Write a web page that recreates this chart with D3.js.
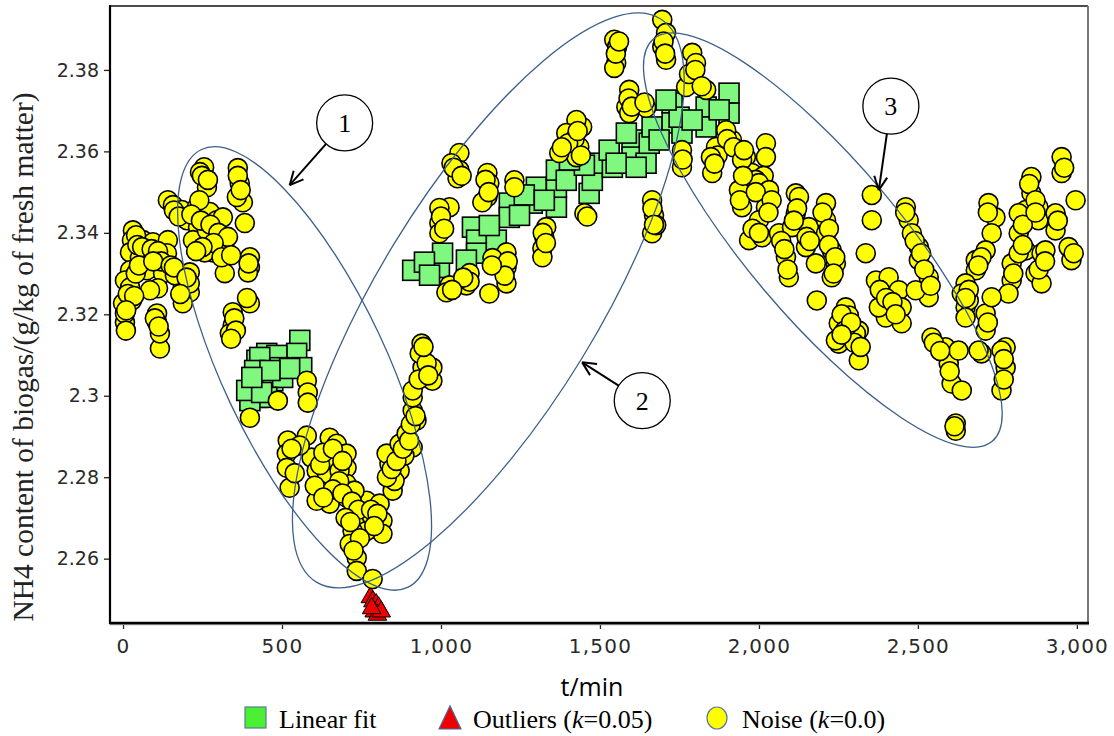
<!DOCTYPE html>
<html>
<head>
<meta charset="utf-8">
<script src="https://cdn.jsdelivr.net/npm/d3@7"></script>
<style>
  body { margin: 0; background: #fff; }
  svg { display: block; }
</style>
</head>
<body>
<svg id="chart" width="1114" height="736"></svg>
<script>
// NH4 content of biogas over time: measured noise, linear-fit segments and outliers

const xTicks = [0, 500, 1000, 1500, 2000, 2500, 3000];
const yTicks = [2.26, 2.28, 2.30, 2.32, 2.34, 2.36, 2.38];

// Noise (k=0.0): [t/min, NH4]
const noise = [
  [255,2.3561],[264,2.3512],[242,2.3549],[361,2.3559],[367,2.3522],[377,2.3475],[383,2.3424],[358,2.3488],
  [141,2.3480],[157,2.3468],[185,2.3456],[232,2.3463],[201,2.3431],[236,2.3414],[273,2.3451],[295,2.3431],[314,2.3438],
  [220,2.3382],[264,2.3406],[305,2.3382],[283,2.3352],[320,2.3362],[257,2.3352],[399,2.3340],[399,2.3315],[393,2.3303],[320,2.3301],
  [31,2.3406],[28,2.3382],[63,2.3382],[94,2.3377],[141,2.3382],[22,2.3352],[75,2.3352],[138,2.3350],[22,2.3308],[75,2.3308],[126,2.3301],[210,2.3303],
  [6,2.3283],[22,2.3266],[110,2.3264],[85,2.3259],[188,2.3266],[210,2.3254],[28,2.3234],[0,2.3227],[188,2.3227],[6,2.3180],[6,2.3202],
  [107,2.3202],[107,2.3180],[116,2.3116],[116,2.3153],[9,2.3160],
  [399,2.3227],[345,2.3205],[345,2.3173],[336,2.3153],[210,2.3276],[41,2.3394],[53,2.3338],[163,2.3296],
  [248,2.3540],[267,2.3530],[361,2.3540],[370,2.3505],[240,2.3480],[160,2.3455],[175,2.3440],[215,2.3445],[245,2.3430],[275,2.3420],
  [300,2.3400],[330,2.3390],[285,2.3375],[250,2.3365],[230,2.3355],[310,2.3340],[340,2.3345],[395,2.3325],[45,2.3370],[60,2.3365],
  [90,2.3360],[110,2.3355],[120,2.3330],[40,2.3300],[50,2.3320],[95,2.3330],[150,2.3320],[160,2.3315],[200,2.3290],[180,2.3250],
  [15,2.3250],[35,2.3245],[10,2.3210],[100,2.3190],[112,2.3170],[350,2.3190],[355,2.3160],[390,2.3240],[340,2.3140],
  [578,2.3037],[581,2.3008],[581,2.2983],[487,2.2988],[399,2.2946],
  [518,2.2890],[515,2.2858],[515,2.2823],[524,2.2774],[578,2.2902],[593,2.2848],[650,2.2897],[672,2.2882],[703,2.2858],[659,2.2848],
  [609,2.2816],[641,2.2799],[703,2.2823],[703,2.2784],[619,2.2767],[650,2.2735],[609,2.2742],[703,2.2750],[766,2.2742],[807,2.2735],
  [754,2.2700],[816,2.2693],[816,2.2661],[766,2.2668],[722,2.2668],[713,2.2636],[735,2.2602],[735,2.2570],[785,2.2550],
  [848,2.2767],[860,2.2809],[838,2.2833],[829,2.2858],[870,2.2882],[911,2.2873],[892,2.2907],[923,2.2939],[911,2.2964],[911,2.2996],
  [911,2.3013],[973,2.3037],[973,2.3069],[942,2.3069],[939,2.3128],[933,2.3104],
  [556,2.2878],[681,2.2816],[728,2.2767],[782,2.2705],[870,2.2816],[885,2.2853],[854,2.2791],[603,2.2779],
  [530,2.2870],[540,2.2810],[620,2.2830],[630,2.2860],[660,2.2870],[690,2.2840],[680,2.2790],[660,2.2770],[630,2.2750],[690,2.2760],
  [720,2.2740],[740,2.2720],[700,2.2700],[715,2.2690],[780,2.2720],[800,2.2710],[790,2.2680],[745,2.2650],[725,2.2620],[830,2.2800],
  [845,2.2820],[860,2.2840],[880,2.2870],[900,2.2890],[905,2.2930],[920,2.2950],[930,2.3040],[955,2.3080],[945,2.3120],[960,2.3050],
  [1058,2.3596],[1058,2.3554],[1052,2.3534],[1033,2.3571],[1146,2.3547],[1152,2.3522],[1146,2.3488],[1130,2.3475],[1231,2.3529],[1231,2.3512],
  [1027,2.3463],[995,2.3461],[995,2.3424],[995,2.3399],[1331,2.3414],[1325,2.3389],[1319,2.3362],[1319,2.3340],[1206,2.3352],[1206,2.3315],
  [1206,2.3276],[1162,2.3338],[1152,2.3251],[1090,2.3301],[1080,2.3271],[1027,2.3271],[1017,2.3254],[1451,2.3448],[1413,2.3603],[1426,2.3586],
  [1372,2.3596],[1444,2.3660],[1426,2.3677],[1435,2.3611],[1394,2.3645],
  [1040,2.3560],[1065,2.3540],[1140,2.3530],[1150,2.3500],[1000,2.3440],[1010,2.3410],[1320,2.3400],[1330,2.3375],[1210,2.3330],[1200,2.3295],
  [1160,2.3320],[1090,2.3280],[1070,2.3290],[1035,2.3260],[1420,2.3630],[1400,2.3620],[1430,2.3650],[1440,2.3590],[1380,2.3610],[1460,2.3440],
  [1696,2.3923],[1708,2.3891],[1696,2.3857],[1708,2.3825],[1545,2.3874],[1554,2.3857],[1551,2.3817],[1545,2.3805],[1592,2.3751],[1583,2.3709],
  [1645,2.3707],[1592,2.3694],[1790,2.3842],[1802,2.3817],[1790,2.3775],[1834,2.3751],[1771,2.3758],[1758,2.3603],[1758,2.3561],[1865,2.3611],
  [1853,2.3547],[1915,2.3628],[1897,2.3652],[2022,2.3620],[2022,2.3586],[1959,2.3586],[1978,2.3547],[2010,2.3522],[2116,2.3497],
  [1664,2.3480],[1670,2.3443],[1664,2.3399],[1677,2.3419],
  [1550,2.3840],[1560,2.3870],[1700,2.3870],[1705,2.3840],[1590,2.3730],[1600,2.3710],[1640,2.3720],[1780,2.3790],[1800,2.3800],[1820,2.3760],
  [1760,2.3580],[1870,2.3590],[1900,2.3630],[1920,2.3610],[2015,2.3540],[1990,2.3530],[1665,2.3460],[1670,2.3420],
  [1849,2.3586],[1947,2.3579],[1937,2.3505],[1947,2.3463],[2000,2.3522],[2032,2.3505],[2022,2.3463],[2000,2.3431],[1969,2.3382],[2010,2.3389],
  [2063,2.3399],[2085,2.3340],[2094,2.3291],[2126,2.3488],[2116,2.3448],[2104,2.3414],[2157,2.3414],[2148,2.3365],[2211,2.3473],[2211,2.3431],
  [2211,2.3399],[2229,2.3357],[2242,2.3325],[2229,2.3291],[2182,2.3234],[2179,2.3325],[2355,2.3493],[2355,2.3431],[2336,2.3350],[2273,2.3217],
  [2251,2.3178],[2251,2.3128],[2314,2.3160],[2314,2.3087],[2368,2.3283],[2408,2.3291],[2440,2.3259],[2449,2.3217],[2449,2.3178],[2399,2.3192],
  [2377,2.3217],[2462,2.3463],[2471,2.3431],[2481,2.3399],[2503,2.3365],[2503,2.3333],[2534,2.3291],[2534,2.3242],[2493,2.3259],[2543,2.3143],
  [2587,2.3119],[2597,2.3079],[2606,2.3030],[2619,2.2932],[2619,2.2914],[2628,2.3111],[2638,2.3013],[2242,2.3136],[2305,2.3153],[1953,2.3603],[2283,2.3197],
  [1860,2.3570],[1950,2.3540],[1940,2.3480],[1990,2.3500],[2040,2.3480],[2030,2.3450],[1980,2.3410],[2000,2.3400],[2070,2.3380],[2080,2.3360],
  [2090,2.3310],[2120,2.3460],[2110,2.3430],[2150,2.3390],[2160,2.3380],[2200,2.3450],[2220,2.3410],[2220,2.3370],[2240,2.3340],[2235,2.3300],
  [2260,2.3200],[2270,2.3160],[2290,2.3180],[2300,2.3130],[2320,2.3120],[2260,2.3150],[2380,2.3260],[2400,2.3240],[2420,2.3230],[2430,2.3200],
  [2460,2.3450],[2490,2.3380],[2510,2.3350],[2520,2.3310],[2540,2.3270],[2550,2.3130],[2570,2.3110],[2600,2.3060],[2615,2.2925],
  [2722,2.3473],[2744,2.3438],[2732,2.3399],[2713,2.3357],[2682,2.3333],[2682,2.3308],[2650,2.3276],[2638,2.3251],[2650,2.3217],[2660,2.3234],
  [2650,2.3192],[2713,2.3202],[2713,2.3160],[2700,2.3104],[2776,2.3119],[2776,2.3069],[2763,2.3013],[2763,2.3111],[2691,2.3111],[2795,2.3325],
  [2795,2.3283],[2785,2.3251],[2732,2.3242],[2839,2.3357],[2857,2.3537],[2857,2.3497],[2879,2.3463],[2839,2.3456],[2817,2.3448],[2817,2.3399],
  [2817,2.3350],[2879,2.3431],[2870,2.3301],[2889,2.3350],[2889,2.3276],[2901,2.3357],[2933,2.3448],[2933,2.3406],[2952,2.3586],[2952,2.3547],
  [2996,2.3480],[2974,2.3365],[2983,2.3333],
  [2720,2.3450],[2700,2.3340],[2690,2.3320],[2660,2.3260],[2650,2.3240],[2720,2.3180],[2770,2.3090],[2770,2.3040],[2800,2.3300],[2830,2.3370],
  [2850,2.3520],[2870,2.3480],[2830,2.3420],[2880,2.3310],[2900,2.3330],[2940,2.3430],[2960,2.3560],[2990,2.3350],[2870,2.3450]
];

// Linear fit: [t/min, NH4]
const linearFit = [
  [556,2.3136],[546,2.3104],[452,2.3104],[421,2.3087],[562,2.3069],[484,2.3099],[493,2.3069],[430,2.3094],[414,2.3062],[408,2.3030],
  [440,2.3030],[471,2.3037],[502,2.3045],[421,2.2996],[452,2.2996],[399,2.2988],[389,2.3013],[524,2.3067],[462,2.3062],[436,2.3008],[405,2.3045],
  [911,2.3308],[995,2.3315],[1005,2.3350],[1099,2.3414],[1112,2.3382],[1112,2.3350],[1080,2.3333],[1174,2.3382],[1215,2.3473],[1215,2.3438],
  [1300,2.3512],[1287,2.3473],[1363,2.3463],[1363,2.3512],[1363,2.3554],[1394,2.3529],[1466,2.3497],[1476,2.3529],[1488,2.3571],[1539,2.3561],
  [1529,2.3603],[1601,2.3628],[1601,2.3586],[1645,2.3571],[1655,2.3620],[1664,2.3660],[1583,2.3645],[1262,2.3493],[1325,2.3480],[1451,2.3566],
  [1404,2.3579],[948,2.3328],[964,2.3296],[1152,2.3418],[1247,2.3443],
  [1906,2.3743],[1906,2.3694],[1834,2.3709],[1834,2.3660],[1727,2.3719],[1727,2.3670],[1758,2.3645],[1614,2.3561],[1551,2.3571],[1686,2.3628],
  [1749,2.3684],[1708,2.3726],[1875,2.3702],[1790,2.3677]
];

// Outliers (k=0.05): [t/min, NH4]
const outliers = [[778,2.2505],[786,2.2495],[796,2.2488],[804,2.2480],[790,2.2470],[800,2.2462],[812,2.2470],[782,2.2478]];

// Grouping ellipses (centre in data units, semi-axes in px, rotation in degrees)
const groups = [
  { t: 571,  v: 2.3067, a: 242, b: 82,  rot: 64.8 },
  { t: 1149, v: 2.3234, a: 330, b: 110, rot: -58.6 },
  { t: 2201, v: 2.3382, a: 263, b: 77,  rot: 49.9 }
];

// Numbered callouts with arrows pointing at each ellipse
const callouts = [
  { label: "1", t: 697,  v: 2.3670, tipT: 524,  tipV: 2.3517 },
  { label: "2", t: 1633, v: 2.2988, tipT: 1444, tipV: 2.3082 },
  { label: "3", t: 2415, v: 2.3711, tipT: 2377, tipV: 2.3505 }
];

const svg = d3.select("#chart");
const plot = { left: 110, right: 1088, top: 6, bottom: 623 };

const x = d3.scaleLinear().domain([-41, 3035]).range([plot.left, plot.right]);
const y = d3.scaleLinear().domain([2.2442, 2.3957]).range([plot.bottom, plot.top]);

svg.append("rect").attr("width", 1114).attr("height", 736).attr("fill", "#fff");

// clip marks to the plot area
svg.append("clipPath").attr("id", "plotClip")
  .append("rect").attr("x", plot.left).attr("y", plot.top)
  .attr("width", plot.right - plot.left).attr("height", plot.bottom - plot.top);

const marks = svg.append("g").attr("clip-path", "url(#plotClip)");

// Linear fit squares
const sq = 20;
marks.append("g").selectAll("rect").data(linearFit).join("rect")
  .attr("x", d => x(d[0]) - sq / 2).attr("y", d => y(d[1]) - sq / 2)
  .attr("width", sq).attr("height", sq)
  .attr("fill", "#80f880").attr("stroke", "#000").attr("stroke-width", 1.6);

// Outlier triangles
const tri = d3.symbol().type(d3.symbolTriangle).size(150);
marks.append("g").selectAll("path").data(outliers).join("path")
  .attr("d", tri)
  .attr("transform", d => `translate(${x(d[0])},${y(d[1])})`)
  .attr("fill", "#f00000").attr("stroke", "#000").attr("stroke-width", 1);

// Noise circles
marks.append("g").selectAll("circle").data(noise).join("circle")
  .attr("cx", d => x(d[0])).attr("cy", d => y(d[1])).attr("r", 9.5)
  .attr("fill", "#ffff00").attr("stroke", "#000").attr("stroke-width", 1.6);

// Ellipses
svg.append("g").selectAll("ellipse").data(groups).join("ellipse")
  .attr("rx", d => d.a).attr("ry", d => d.b)
  .attr("transform", d => `translate(${x(d.t)},${y(d.v)}) rotate(${d.rot})`)
  .attr("fill", "none").attr("stroke", "#3d5f8c").attr("stroke-width", 1.3);

// Frame and axes
svg.append("line").attr("x1", plot.left).attr("x2", plot.right).attr("y1", plot.top).attr("y2", plot.top)
  .attr("stroke", "#111").attr("stroke-width", 1.6);
svg.append("line").attr("x1", plot.right).attr("x2", plot.right).attr("y1", plot.top).attr("y2", plot.bottom)
  .attr("stroke", "#777").attr("stroke-width", 2);

const yAxis = svg.append("g").attr("transform", `translate(${plot.left},0)`)
  .call(d3.axisLeft(y).tickValues(yTicks).tickSize(6).tickPadding(5).tickFormat(d3.format("~g")));
const xAxis = svg.append("g").attr("transform", `translate(0,${plot.bottom})`)
  .call(d3.axisBottom(x).tickValues(xTicks).tickSize(6).tickPadding(10).tickFormat(d3.format(",")));

[yAxis, xAxis].forEach(g => {
  g.select(".domain").remove();
  g.selectAll(".tick line").attr("stroke", "#222").attr("stroke-width", 1.3);
  g.selectAll(".tick text").attr("fill", "#2a2a2a").attr("font-family", "DejaVu Sans, Verdana, sans-serif");
});
yAxis.selectAll(".tick text").attr("font-size", 19);
xAxis.selectAll(".tick text").attr("font-size", 20).attr("letter-spacing", 1.2);

svg.append("line").attr("x1", plot.left).attr("x2", plot.left).attr("y1", plot.top - 1).attr("y2", plot.bottom + 1)
  .attr("stroke", "#000").attr("stroke-width", 2.2);
svg.append("line").attr("x1", plot.left).attr("x2", plot.right + 1).attr("y1", plot.bottom + 1.5).attr("y2", plot.bottom + 1.5)
  .attr("stroke", "#999").attr("stroke-width", 1.5);
svg.append("line").attr("x1", plot.left - 1).attr("x2", plot.right + 1).attr("y1", plot.bottom).attr("y2", plot.bottom)
  .attr("stroke", "#000").attr("stroke-width", 2.4);

// Callouts
const callG = svg.append("g");
const cr = 28;
callouts.forEach(c => {
  const cx = x(c.t), cy = y(c.v), tx = x(c.tipT), ty = y(c.tipV);
  const ang = Math.atan2(ty - cy, tx - cx);
  const sx = cx + cr * Math.cos(ang), sy = cy + cr * Math.sin(ang);
  callG.append("line").attr("x1", sx).attr("y1", sy).attr("x2", tx).attr("y2", ty)
    .attr("stroke", "#000").attr("stroke-width", 2);
  const head = 15, spread = 0.45;
  [-spread, spread].forEach(s => {
    callG.append("line").attr("x1", tx).attr("y1", ty)
      .attr("x2", tx - head * Math.cos(ang + s)).attr("y2", ty - head * Math.sin(ang + s))
      .attr("stroke", "#000").attr("stroke-width", 2);
  });
  callG.append("circle").attr("cx", cx).attr("cy", cy).attr("r", cr)
    .attr("fill", "#fff").attr("stroke", "#000").attr("stroke-width", 1.3);
  callG.append("text").attr("x", cx).attr("y", cy + 9).attr("text-anchor", "middle")
    .attr("font-family", "Liberation Serif, Times New Roman, serif").attr("font-size", 26)
    .attr("fill", "#000").text(c.label);
});

// Axis titles
svg.append("text")
  .attr("transform", `translate(33,357) rotate(-90)`)
  .attr("text-anchor", "middle")
  .attr("font-family", "Liberation Serif, Times New Roman, serif").attr("font-size", 29.5)
  .attr("fill", "#222")
  .text("NH4 content of biogas/(g/kg of fresh matter)");

svg.append("text")
  .attr("x", x(1500) - 8).attr("y", 696).attr("text-anchor", "middle")
  .attr("font-family", "Open Sans, Liberation Sans, sans-serif").attr("font-size", 25)
  .attr("fill", "#000").text("t/min");

// Legend
const legend = svg.append("g").attr("font-family", "Liberation Serif, Times New Roman, serif")
  .attr("font-size", 26).attr("fill", "#000");
const ly = 728;
legend.append("rect").attr("x", 245).attr("y", 707).attr("width", 21).attr("height", 21)
  .attr("fill", "#4cf032").attr("stroke", "#5a7a9a").attr("stroke-width", 1.2);
legend.append("text").attr("x", 279).attr("y", ly).text("Linear fit");

legend.append("path").attr("d", "M439,729 L450,706 L461,729 Z")
  .attr("fill", "#ee0000").attr("stroke", "#4a6a9a").attr("stroke-width", 1.2);
const t2 = legend.append("text").attr("x", 473).attr("y", ly);
t2.append("tspan").text("Outliers (");
t2.append("tspan").attr("font-style", "italic").text("k");
t2.append("tspan").text("=0.05)");

legend.append("ellipse").attr("cx", 717).attr("cy", 718).attr("rx", 10).attr("ry", 11)
  .attr("fill", "#ffff00").attr("stroke", "#5a7a9a").attr("stroke-width", 1.2);
const t3 = legend.append("text").attr("x", 742).attr("y", ly);
t3.append("tspan").text("Noise (");
t3.append("tspan").attr("font-style", "italic").text("k");
t3.append("tspan").text("=0.0)");
</script>
</body>
</html>
